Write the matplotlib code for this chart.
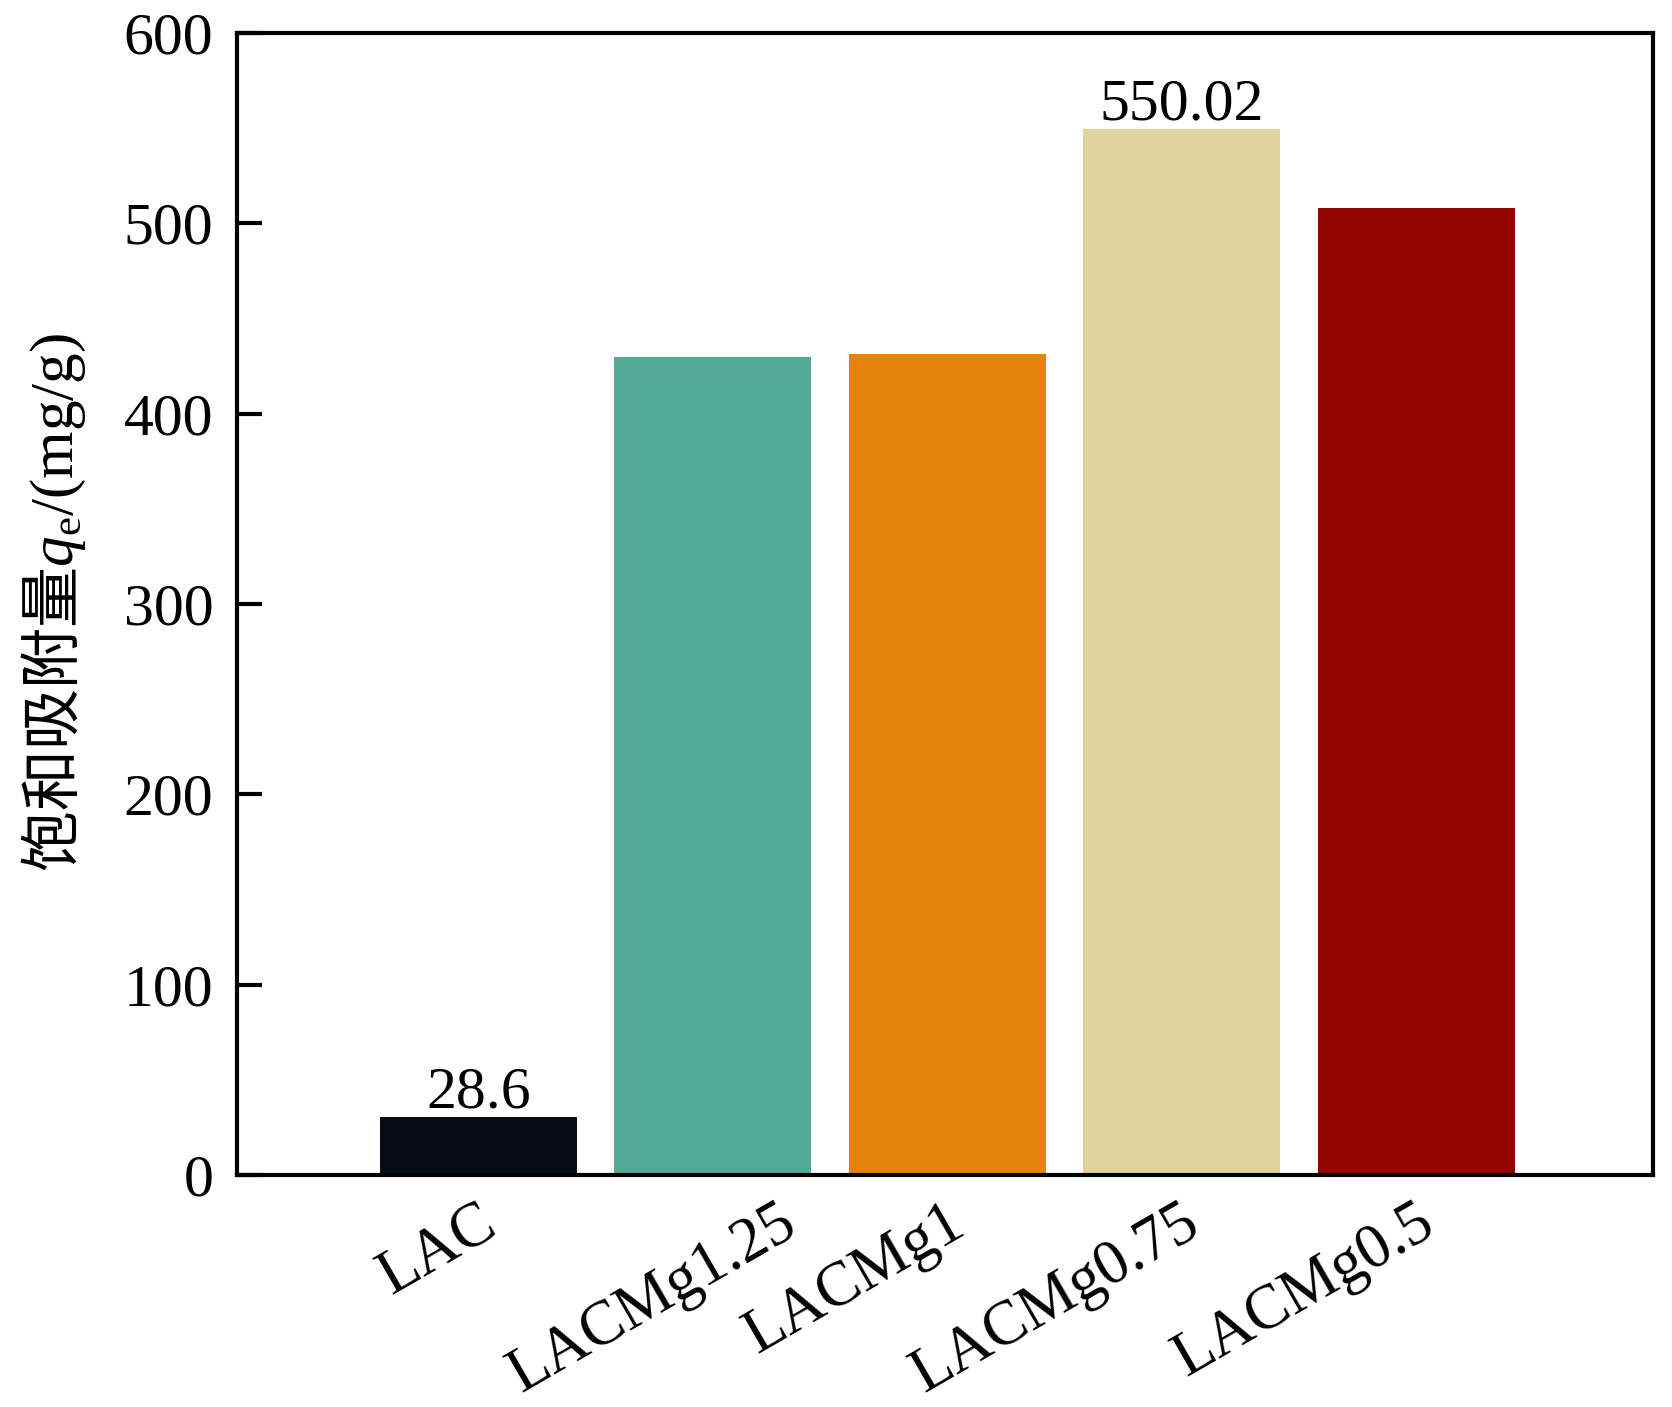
import matplotlib
matplotlib.use("Agg")
import matplotlib.pyplot as plt
import matplotlib.transforms as mtransforms

# data
samples = ["LAC", "LACMg1.25", "LACMg1", "LACMg0.75", "LACMg0.5"]
capacity = [30.3, 429.6, 431.3, 549.6, 508.1]
bar_colors = ["#050c14", "#52aa97", "#e5820f", "#e0d39c", "#920600"]
value_labels = {0: "28.6", 3: "550.02"}
y_ticks = [0, 100, 200, 300, 400, 500, 600]

plt.rcParams['font.family'] = ['Liberation Serif', 'Noto Sans CJK SC']
# mathtext: rm -> CJK font for the Chinese part, sf -> serif for units, it -> italic q
plt.rcParams['mathtext.fontset'] = 'custom'
plt.rcParams['mathtext.rm'] = 'Noto Sans CJK SC'
plt.rcParams['mathtext.sf'] = 'Liberation Serif'
plt.rcParams['mathtext.it'] = 'Liberation Serif:italic'

fig = plt.figure(figsize=(16.72, 14.07), dpi=100)
ax = fig.add_axes([0.1417, 0.1649, 0.8469, 0.8116])

x = list(range(len(samples)))
ax.bar(x, capacity, width=0.84, color=bar_colors)

# value labels over two of the bars
for i, txt in value_labels.items():
    ax.annotate(txt, (x[i], capacity[i]), xytext=(0, 7), textcoords="offset points",
                ha="center", va="baseline", fontsize=43)

ax.set_xlim(-1.03, 5.01)
ax.set_ylim(0, 600)
ax.set_yticks(y_ticks)
ax.set_xticks(x)
ax.set_xticklabels(samples, rotation=30, ha="right", va="baseline",
                   rotation_mode="anchor", fontsize=45)
ax.tick_params(axis="x", length=0, pad=41)
ax.tick_params(axis="y", direction="in", length=18, width=3, pad=17, labelsize=43)

# labels end a little right of the bar centres; the second one more so
shifts = [0.21, 0.87, 0.21, 0.21, 0.21]
for lbl, dx in zip(ax.get_xticklabels(), shifts):
    lbl.set_transform(lbl.get_transform() + mtransforms.ScaledTranslation(dx, 0, fig.dpi_scale_trans))

for sp in ax.spines.values():
    sp.set_linewidth(3)

ax.set_ylabel(r"$\mathrm{饱和吸附量}q_{\mathsf{e}}\mathsf{/(mg/g)}$", fontsize=44)
ax.yaxis.label.set_va("center")
ax.yaxis.set_label_coords(-0.129, 0.501)

fig.savefig("out.png", dpi=100)
